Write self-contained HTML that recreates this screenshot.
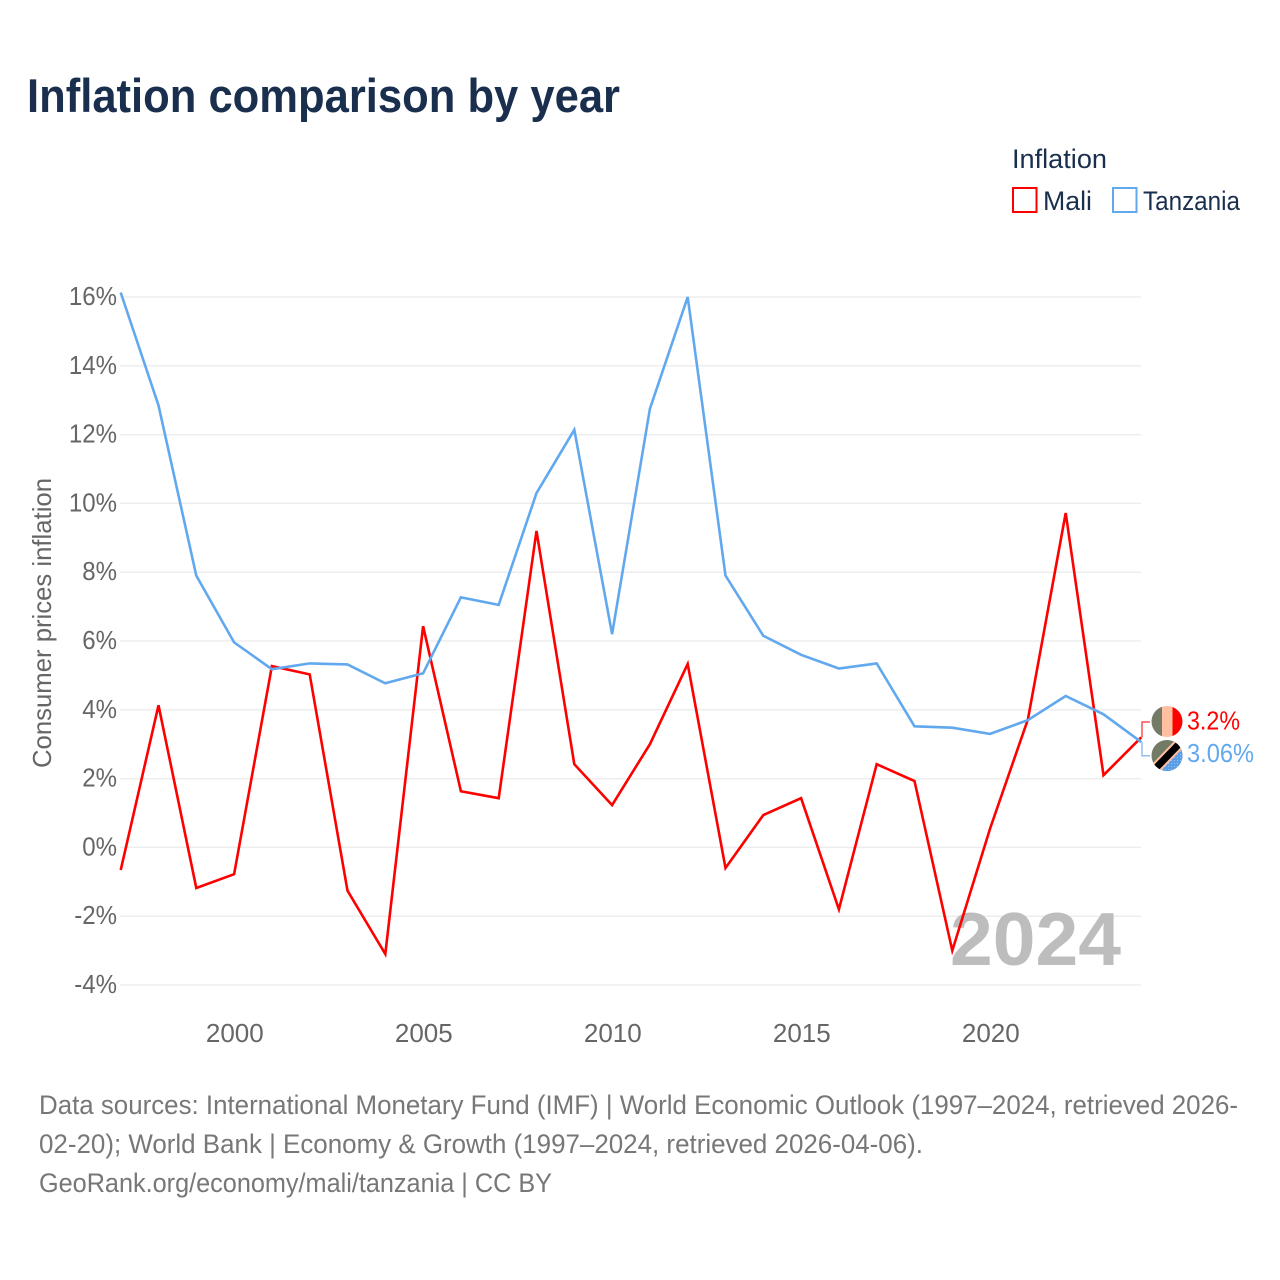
<!DOCTYPE html>
<html lang="en">
<head>
<meta charset="utf-8">
<title>Inflation comparison by year</title>
<style>
  html,body{margin:0;padding:0;background:#fff;}
  svg{display:block;font-family:"Liberation Sans",sans-serif;}
</style>
</head>
<body>
<svg id="chart" xmlns="http://www.w3.org/2000/svg" width="1280" height="1280" viewBox="0 0 1280 1280">
  <defs>
    <clipPath id="clip-mali"><circle cx="1167" cy="721.5" r="15.5"/></clipPath>
    <clipPath id="clip-tz"><circle cx="1167" cy="755.5" r="15.5"/></clipPath>
    <pattern id="dots" width="3" height="3" patternUnits="userSpaceOnUse">
      <rect width="3" height="3" fill="#5b9ee8"/>
      <rect x="1" y="1" width="1" height="1" fill="#9cc4f0"/>
    </pattern>
  </defs>
  <rect width="1280" height="1280" fill="#fff"/>
  <text x="27" y="112" font-size="47" font-weight="700" fill="#1a2f4e" textLength="593" lengthAdjust="spacingAndGlyphs">Inflation comparison by year</text>

  <g>
    <text x="1012" y="168" font-size="27" fill="#1a2f4e" textLength="95" lengthAdjust="spacingAndGlyphs">Inflation</text>
    <g>
      <rect x="1013" y="188" width="23.5" height="24" fill="#fff" stroke="#ff0000" stroke-width="2"/>
      <text x="1043" y="210" font-size="27" fill="#1a2f4e" textLength="49" lengthAdjust="spacingAndGlyphs">Mali</text>
    </g>
    <g>
      <rect x="1113" y="188" width="23.5" height="24" fill="#fff" stroke="#62a8ee" stroke-width="2"/>
      <text x="1143" y="210" font-size="27" fill="#1a2f4e" textLength="97" lengthAdjust="spacingAndGlyphs">Tanzania</text>
    </g>
  </g>

  <g id="grid"></g>
  <g id="y-ticks"></g>
  <g id="x-ticks"></g>
  <text transform="translate(51,768) rotate(-90)" font-size="26" fill="#666" textLength="290" lengthAdjust="spacingAndGlyphs">Consumer prices inflation</text>
  <text x="950" y="965" font-size="75" font-weight="700" fill="#bdbdbd" textLength="171" lengthAdjust="spacingAndGlyphs">2024</text>
  <g id="series"></g>

  <g clip-path="url(#clip-mali)">
    <rect x="1151" y="705" width="11" height="33" fill="#737b67"/>
    <rect x="1162" y="705" width="10.5" height="33" fill="#ffbfa0"/>
    <rect x="1172.5" y="705" width="11" height="33" fill="#ff0000"/>
  </g>
  <g clip-path="url(#clip-tz)">
    <rect x="1150" y="739" width="34" height="34" fill="#737b67"/>
    <polygon points="1184,745 1184,773 1156,773" fill="url(#dots)"/>
    <line x1="1153" y1="771" x2="1182" y2="741" stroke="#ffbfa0" stroke-width="11"/>
    <line x1="1153" y1="771" x2="1182" y2="741" stroke="#000" stroke-width="7"/>
  </g>
  <g id="end-labels"></g>

  <text x="39" y="1114" font-size="26.5" fill="#777" textLength="1199" lengthAdjust="spacingAndGlyphs">Data sources: International Monetary Fund (IMF) | World Economic Outlook (1997–2024, retrieved 2026-</text>
  <text x="39" y="1153" font-size="26.5" fill="#777" textLength="884" lengthAdjust="spacingAndGlyphs">02-20); World Bank | Economy &amp; Growth (1997–2024, retrieved 2026-04-06).</text>
  <text x="39" y="1192" font-size="26.5" fill="#777" textLength="513" lengthAdjust="spacingAndGlyphs">GeoRank.org/economy/mali/tanzania | CC BY</text>
</svg>
<script>
const years = [1997,1998,1999,2000,2001,2002,2003,2004,2005,2006,2007,2008,2009,2010,2011,2012,2013,2014,2015,2016,2017,2018,2019,2020,2021,2022,2023,2024];
const maliValues = [-0.66,4.13,-1.18,-0.78,5.27,5.03,-1.26,-3.1,6.43,1.63,1.43,9.2,2.42,1.23,3.0,5.33,-0.6,0.94,1.43,-1.8,2.42,1.93,-3.0,0.55,3.72,9.72,2.1,3.2];
const tanzaniaValues = [16.13,12.85,7.9,5.96,5.18,5.35,5.32,4.77,5.06,7.27,7.05,10.3,12.14,6.2,12.75,16.0,7.9,6.15,5.6,5.2,5.35,3.52,3.48,3.3,3.7,4.4,3.87,3.06];
const yTicks = [-4,-2,0,2,4,6,8,10,12,14,16];
const xTicks = [2000,2005,2010,2015,2020];

const SVGNS = 'http://www.w3.org/2000/svg';
const xScale = function (year) { return 120.7 + (year - 1997) * 37.8; };
const yScale = function (v) { return 847.4 - v * 34.4; };
function make(tag, parent, attrs) {
  const el = document.createElementNS(SVGNS, tag);
  for (const k in attrs) el.setAttribute(k, attrs[k]);
  parent.appendChild(el);
  return el;
}
const grid = document.getElementById('grid');
const yTickGroup = document.getElementById('y-ticks');
const xTickGroup = document.getElementById('x-ticks');
const seriesGroup = document.getElementById('series');
const endGroup = document.getElementById('end-labels');

yTicks.forEach(function (t) {
  const line = make('line', grid, {x1:120, x2:1141, y1:yScale(t), y2:yScale(t), stroke:'#ededed', 'stroke-width':1.5});
  
  
  const label = make('text', yTickGroup, {x:117, y:yScale(t)+8, 'text-anchor':'end', 'font-size':26, fill:'#666'});
  label.textContent = t + '%';
  
  
  label.setAttribute('textLength', label.getComputedTextLength() * 0.925);
  label.setAttribute('lengthAdjust', 'spacingAndGlyphs');
});
xTicks.forEach(function (t) {
  const label = make('text', xTickGroup, {x:xScale(t)+0.7, y:1042, 'text-anchor':'middle', 'font-size':26, fill:'#666'});
  label.textContent = String(t);
  
  
});
function points(values) {
  return values.map(function (v, i) { return xScale(years[i]).toFixed(1) + ',' + yScale(v).toFixed(1); }).join(' ');
}
const maliLine = make('polyline', seriesGroup, {points:points(maliValues), fill:'none', stroke:'#ff0000', 'stroke-width':2.6, 'stroke-linejoin':'miter'});


const tzLine = make('polyline', seriesGroup, {points:points(tanzaniaValues), fill:'none', stroke:'#62a8ee', 'stroke-width':2.6, 'stroke-linejoin':'miter'});



const lastX = xScale(years[years.length - 1]);
const maliLast = maliValues[maliValues.length - 1];
const tzLast = tanzaniaValues[tanzaniaValues.length - 1];
const maliConn = make('polyline', endGroup, {points:(lastX+0.7)+','+yScale(maliLast)+' '+(lastX+0.7)+',722 1150,722', fill:'none', stroke:'#ff5050', 'stroke-width':1.5});


const tzConn = make('polyline', endGroup, {points:(lastX+0.7)+','+yScale(tzLast)+' '+(lastX+0.7)+',755.7 1150,755.7', fill:'none', stroke:'#8fbff2', 'stroke-width':1.5});


const maliEnd = make('text', endGroup, {x:1187, y:729.5, 'font-size':26, fill:'#ff0000', textLength:53, lengthAdjust:'spacingAndGlyphs'});
maliEnd.textContent = maliLast + '%';


const tzEnd = make('text', endGroup, {x:1187, y:762, 'font-size':26, fill:'#62a8ee', textLength:67, lengthAdjust:'spacingAndGlyphs'});
tzEnd.textContent = tzLast + '%';


</script>
</body>
</html>
